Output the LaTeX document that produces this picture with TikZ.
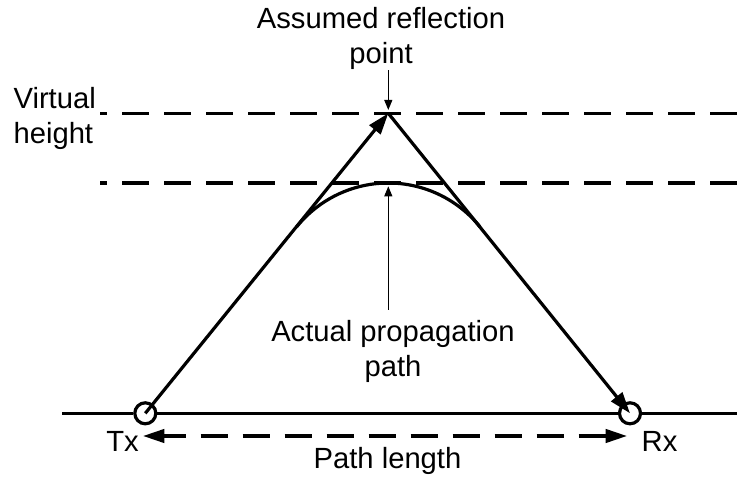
\documentclass[tikz,border=0pt]{standalone}
\usepackage{fontspec}
\setmainfont{Liberation Sans}
\usetikzlibrary{arrows.meta}
\tikzset{
  heavy/.style={line width=2.4pt},
  dashedline/.style={heavy,dash pattern=on 20.25pt off 11.25pt},
  bighead/.style={-{Triangle[length=16pt,width=10.5pt]}},
  twoheads/.style={{Triangle[length=16pt,width=10pt]}-{Triangle[length=16pt,width=10pt]}},
  thinarr/.style={line width=0.8pt,-{Triangle[length=7.5pt,width=6pt]}},
  station/.style={circle,draw,fill=white,heavy,minimum size=15.75pt,inner sep=0pt},
  lbl/.style={inner sep=0pt,align=center,font=\fontsize{21.9}{26.25}\selectfont}
}
\begin{document}
\begin{tikzpicture}[x=0.75pt,y=0.75pt]
\useasboundingbox (0,0) rectangle (737,477);
\coordinate (apex) at (388.3,363.7);
\coordinate (top) at (388.3,294);
% height lines
\draw[dashedline,dash phase=15pt] (100,363.7) -- (737,363.7);
\draw[dashedline,dash phase=15pt] (100,294) -- (737,294);
% ground with Tx and Rx
\coordinate (gl) at (62,63.7);
\coordinate (gr) at (737,63.7);
\node[station] (tx) at (145.3,63.7) {};
\node[station] (rx) at (630,63.7) {};
\draw[heavy] (gl) -- (tx) (tx) -- (rx) (rx) -- (gr);
\draw[heavy,bighead] (tx.center) -- (apex);
\draw[heavy,bighead] (apex) -- (rx.center);
\draw[heavy] (479.95,250.2) arc[start angle=38.92,end angle=141.08,radius=117.8];
% labels
\node[lbl,anchor=north] (reflect) at (381,469.7) {Assumed reflection\\point};
\draw[thinarr,shorten >=2.5pt] (reflect.south -| apex) -- (apex);
\node[lbl,anchor=north] (actual) at (393,157) {Actual propagation\\path};
\draw[thinarr,shorten <=7.5pt,shorten >=2.5pt] (actual.north -| top) -- (top);
\node[lbl,anchor=north west,align=left] (virt) at (13.3,389.5) {Virtual\\height};
\node[lbl,anchor=base] (txl) at (122.5,25.3) {Tx};
\node[lbl,anchor=base] (rxl) at (659.5,25.3) {Rx};
\node[lbl,anchor=base] (plen) at (387.5,8.7) {Path length};
\coordinate (pl) at (143,41);
\coordinate (pr) at (627,41);
\draw[dashedline,dash phase=3.6pt,twoheads] (pl) -- (pr);
\end{tikzpicture}
\end{document}
